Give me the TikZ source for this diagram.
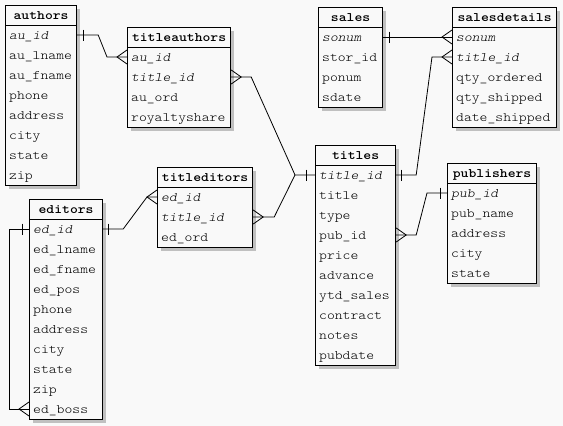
\documentclass[tikz,border=0pt]{standalone}
\usepackage{fontspec}
\setmonofont{lmmonolt10-regular.otf}[FakeStretch=1.15, ItalicFont=lmmonolt10-oblique.otf, BoldFont=lmmonolt10-bold.otf]
\usetikzlibrary{calc,shadows}
\definecolor{bg}{HTML}{F9F9F9}
\definecolor{shd}{HTML}{C0C0C0}
\tikzset{
  tbox/.style={draw=black, line width=1.2pt, fill=bg, rectangle, inner sep=0pt, anchor=north west,
    drop shadow={shadow xshift=3pt, shadow yshift=-3pt, fill=shd, opacity=1}},
  hline/.style={line width=1pt},
  hdr/.style={font=\ttfamily\bfseries\fontsize{13}{15}\selectfont, inner sep=0pt, anchor=base},
  row/.style={font=\ttfamily\fontsize{13}{15}\selectfont, inner sep=0pt, anchor=base west},
  rel/.style={line width=0.8pt, line join=miter},
}
% #1 name, #2 x, #3 y, #4 width, #5 rows, #6 title, #7 row list
\newcommand\erdtab[7]{%
  \node[tbox, minimum width=#4pt, minimum height={(#5+1)*20pt}] (#1) at (#2,#3) {};
  \draw[hline] ([yshift=-20pt]#1.north west) -- ([yshift=-20pt]#1.north east);
  \node[hdr] (#1-h) at ([yshift=-14pt]#1.north) {#6};
  \foreach \r [count=\i] in {#7} {
    \node[row] (#1-\i) at ([xshift=4pt,yshift={-(20*\i+14)*1pt}]#1.north west) {\r};
    \coordinate (#1-\i-w) at ([yshift={-(20*\i+10)*1pt}]#1.north west);
    \coordinate (#1-\i-e) at ([yshift={-(20*\i+10)*1pt}]#1.north east);
  }%
}
\newcommand\barat[2]{\draw[rel] ($(#1)+(#2,-5.5)$) -- ($(#1)+(#2,5.5)$);}
\newcommand\crowat[2]{\draw[rel] ($(#1)+(0,-7)$) -- ($(#1)+(#2,0)$) -- ($(#1)+(0,7)$);}
\begin{document}
\begin{tikzpicture}[x=1pt,y=-1pt]
\fill[bg] (0,0) rectangle (563,426);
\useasboundingbox (0,0) rectangle (563,426);

\erdtab{authors}{5}{5}{71}{8}{authors}{\textit{au\_id},au\_lname,au\_fname,phone,address,city,state,zip}
\erdtab{titleauthors}{127}{27}{103}{4}{titleauthors}{\textit{au\_id},\textit{title\_id},au\_ord,royaltyshare}
\erdtab{titleditors}{157}{167}{95}{3}{titleditors}{\textit{ed\_id},\textit{title\_id},ed\_ord}
\erdtab{editors}{29}{199}{73}{10}{editors}{\textit{ed\_id},ed\_lname,ed\_fname,ed\_pos,phone,address,city,state,zip,ed\_boss}
\erdtab{titles}{315}{145}{80}{10}{titles}{\textit{title\_id},title,type,pub\_id,price,advance,ytd\_sales,contract,notes,pubdate}
\erdtab{sales}{318}{7}{64}{4}{sales}{\textit{sonum},stor\_id,ponum,sdate}
\erdtab{salesdetails}{452}{7}{104}{5}{salesdetails}{\textit{sonum},\textit{title\_id},qty\_ordered,qty\_shipped,date\_shipped}
\erdtab{publishers}{447}{163}{89}{5}{publishers}{\textit{pub\_id},pub\_name,address,city,state}

% authors - titleauthors
\draw[rel] (authors-1-e) -- ++(21,0) -- ($(titleauthors-1-w)+(-20,0)$) -- (titleauthors-1-w);
\barat{authors-1-e}{6}
\crowat{titleauthors-1-w}{-10}
% titleauthors - titles
\draw[rel] (titleauthors-2-e) -- ++(20,0) -- ($(titles-1-w)+(-20,0)$) -- (titles-1-w);
\crowat{titleauthors-2-e}{10}
\barat{titles-1-w}{-9}
% titleditors - titles
\draw[rel] (titleditors-2-e) -- ++(21,0) -- ($(titles-1-w)+(-20,0)$);
\crowat{titleditors-2-e}{10}
% editors - titleditors
\draw[rel] (editors-1-e) -- ++(20,0) -- ($(titleditors-1-w)+(-10,0)$) -- (titleditors-1-w);
\barat{editors-1-e}{5}
\crowat{titleditors-1-w}{-10}
% editors self reference
\draw[rel] (editors-1-w) -- ++(-20,0) |- (editors-10-w);
\barat{editors-1-w}{-7}
\crowat{editors-10-w}{-10}
% sales - salesdetails
\draw[rel] (sales-1-e) -- (salesdetails-1-w);
\barat{sales-1-e}{6}
\crowat{salesdetails-1-w}{-10}
% titles - salesdetails
\draw[rel] (titles-1-e) -- ++(20,0) -- ($(salesdetails-2-w)+(-20,0)$) -- (salesdetails-2-w);
\barat{titles-1-e}{5}
\crowat{salesdetails-2-w}{-10}
% titles - publishers
\draw[rel] (titles-4-e) -- ++(20,0) -- ($(publishers-1-w)+(-20,0)$) -- (publishers-1-w);
\crowat{titles-4-e}{10}
\barat{publishers-1-w}{-7}
\end{tikzpicture}
\end{document}
